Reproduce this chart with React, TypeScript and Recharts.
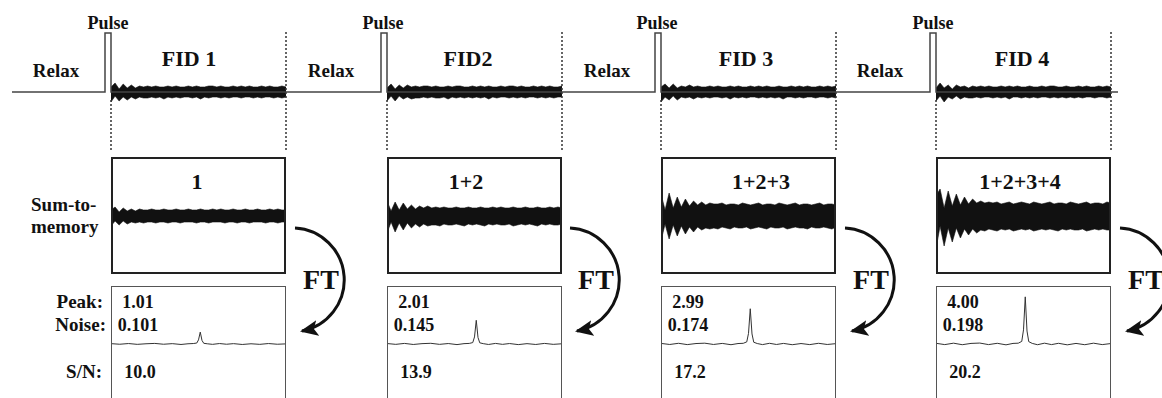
import React from 'react';
import { ComposedChart, LineChart, Line, Area, XAxis, YAxis, ReferenceLine } from 'recharts';

const FONT = '"Liberation Serif", "Times New Roman", serif';

// ---- pulse sequence timing (time units along the acquisition timeline) ----
const relaxStart = 12;
const pulseStarts = [105, 381, 655, 930];
const pulseWidth = 6;
const fidStarts = [111, 387, 661, 936];
const fidLength = 175;
const seqEnd = 1118;
const pulseLevel = 59;

// ---- single-scan FID envelopes (upper / lower excursion) ----
const fidTopHi = [
  [5, 9, 3, 8, 4, 7, 4, 6, 5, 6, 5, 6, 5, 5, 6, 5, 6, 5, 5, 6, 5, 6, 5, 5, 6, 6, 5, 6, 5, 5, 6, 5, 6, 5, 6, 5, 5, 6, 5, 6, 5, 5, 6, 5],
  [4, 8, 3, 7, 4, 7, 5, 6, 5, 6, 6, 5, 6, 5, 5, 6, 5, 6, 6, 5, 5, 6, 5, 6, 5, 6, 5, 5, 6, 5, 6, 6, 5, 6, 5, 5, 6, 5, 6, 5, 6, 5, 5, 6],
  [5, 8, 4, 8, 4, 6, 5, 7, 5, 6, 5, 5, 6, 5, 6, 5, 5, 6, 5, 6, 5, 5, 6, 5, 6, 5, 6, 5, 5, 6, 5, 5, 6, 5, 6, 5, 6, 5, 5, 6, 5, 6, 5, 6],
  [4, 9, 4, 7, 3, 7, 5, 6, 4, 6, 5, 6, 5, 6, 5, 5, 6, 5, 6, 5, 6, 5, 5, 6, 5, 5, 6, 5, 6, 6, 5, 5, 6, 5, 5, 6, 5, 6, 5, 5, 6, 5, 6, 5],
];
const fidTopLo = [
  [-10, -4, -9, -5, -8, -5, -7, -5, -6, -6, -5, -6, -5, -7, -5, -6, -5, -6, -5, -5, -6, -5, -7, -5, -6, -5, -5, -6, -5, -6, -5, -5, -6, -5, -5, -6, -5, -6, -5, -5, -6, -5, -6, -5],
  [-9, -4, -9, -4, -7, -5, -7, -6, -6, -5, -6, -5, -6, -6, -5, -7, -5, -6, -5, -6, -5, -6, -5, -6, -5, -7, -5, -6, -5, -5, -6, -5, -6, -5, -6, -5, -5, -6, -5, -6, -5, -6, -5, -5],
  [-10, -5, -8, -4, -8, -5, -6, -5, -7, -5, -6, -5, -6, -5, -5, -6, -5, -7, -5, -6, -5, -6, -5, -5, -6, -5, -6, -5, -6, -5, -7, -5, -5, -6, -5, -6, -5, -5, -6, -5, -5, -6, -5, -6],
  [-9, -4, -10, -5, -7, -4, -7, -5, -6, -6, -5, -6, -5, -5, -6, -5, -6, -5, -7, -5, -5, -6, -5, -6, -5, -6, -5, -5, -6, -5, -6, -5, -6, -5, -6, -5, -6, -5, -5, -6, -5, -5, -6, -5],
];

// ---- summed FID envelopes (1, 1+2, 1+2+3, 1+2+3+4) ----
const sumHi = [
  [6, 9, 4, 8, 5, 7, 5, 7, 6, 6, 7, 6, 6, 7, 6, 6, 7, 6, 6, 7, 6, 6, 7, 6, 6, 7, 6, 7, 6, 6, 7, 6, 6, 7, 6, 6, 7, 6, 6, 7, 6, 7, 6, 6],
  [15, 5, 14, 6, 13, 7, 11, 7, 10, 8, 10, 8, 9, 8, 9, 8, 8, 9, 8, 8, 9, 8, 8, 9, 8, 8, 9, 8, 9, 8, 8, 9, 8, 8, 9, 8, 8, 9, 8, 8, 9, 8, 9, 8],
  [22, 6, 23, 8, 19, 9, 17, 10, 15, 11, 14, 11, 13, 12, 12, 13, 11, 12, 12, 11, 13, 12, 11, 12, 13, 11, 12, 12, 11, 13, 12, 11, 12, 13, 11, 12, 12, 11, 12, 13, 11, 12, 12, 11],
  [20, 27, 8, 25, 10, 22, 11, 19, 12, 17, 13, 15, 13, 14, 13, 14, 12, 13, 14, 12, 13, 14, 13, 12, 14, 13, 12, 13, 14, 12, 13, 13, 12, 14, 13, 12, 13, 14, 12, 13, 13, 12, 14, 13],
];
const sumLo = [
  [-10, -5, -9, -5, -8, -6, -7, -6, -7, -6, -6, -7, -6, -6, -7, -6, -6, -7, -6, -6, -6, -7, -6, -6, -7, -6, -6, -6, -7, -6, -6, -7, -6, -6, -7, -6, -6, -6, -7, -6, -6, -7, -6, -6],
  [-17, -6, -16, -7, -14, -7, -12, -8, -11, -8, -10, -9, -9, -10, -8, -9, -9, -8, -9, -10, -8, -9, -8, -9, -10, -8, -9, -8, -9, -9, -8, -10, -9, -8, -9, -8, -9, -10, -8, -9, -8, -9, -9, -8],
  [-25, -8, -23, -9, -20, -10, -18, -11, -16, -11, -14, -12, -13, -12, -13, -11, -12, -13, -11, -12, -12, -11, -13, -12, -11, -12, -13, -11, -12, -12, -11, -13, -12, -11, -12, -12, -13, -11, -12, -12, -11, -12, -13, -11],
  [-33, -10, -30, -12, -26, -12, -22, -13, -19, -13, -17, -14, -15, -13, -14, -15, -13, -14, -13, -15, -14, -13, -14, -13, -15, -14, -13, -14, -13, -14, -15, -13, -14, -13, -14, -14, -13, -15, -14, -13, -14, -13, -14, -14],
];

// ---- spectra after FT ----
const specFreq = [0, 5, 10, 15, 20, 25, 30, 35, 40, 44, 47, 49, 50, 51, 52, 53, 55, 58, 62, 66, 70, 75, 80, 85, 90, 95, 100];
const specAmp = [
  [0.03, -0.02, 0.04, -0.03, 0.02, 0.05, -0.02, 0.03, -0.04, 0.02, 0.04, 0.08, 0.35, 1.01, 0.3, 0.06, 0.02, -0.03, 0.04, -0.02, 0.03, -0.04, 0.02, -0.03, 0.04, -0.02, 0.01],
  [0.04, -0.03, 0.05, -0.04, 0.03, 0.06, -0.03, 0.04, -0.05, 0.03, 0.05, 0.12, 0.6, 2.01, 0.55, 0.1, 0.03, -0.04, 0.05, -0.03, 0.04, -0.05, 0.03, -0.04, 0.05, -0.03, 0.02],
  [0.05, -0.04, 0.06, -0.05, 0.04, 0.07, -0.04, 0.05, -0.06, 0.04, 0.06, 0.18, 0.9, 2.99, 0.85, 0.15, 0.04, -0.05, 0.06, -0.04, 0.05, -0.06, 0.04, -0.05, 0.06, -0.04, 0.03],
  [0.06, -0.05, 0.07, -0.06, 0.05, 0.08, -0.05, 0.06, -0.07, 0.05, 0.07, 0.22, 1.2, 4.0, 1.1, 0.2, 0.05, -0.06, 0.07, -0.05, 0.06, -0.07, 0.05, -0.06, 0.07, -0.05, 0.04],
];

// ---- labels ----
const fidLabels = ['FID 1', 'FID2', 'FID 3', 'FID 4'];
const sumLabels = ['1', '1+2', '1+2+3', '1+2+3+4'];
const peakValues = ['1.01', '2.01', '2.99', '4.00'];
const noiseValues = ['0.101', '0.145', '0.174', '0.198'];
const snValues = ['10.0', '13.9', '17.2', '20.2'];

// ---- layout ----
const colLeft = [111, 387, 661, 936];
const colWidth = 175;
const pulseLabelX = [108, 383, 657, 933];
const relaxLabelX = [56, 331, 607, 880];
const fidLabelX = [189, 468, 746, 1022];
const sumLabelX = [197, 466, 761, 1020];
const arcOffset = [0, 275, 550, 825];

// build tables
const seqData: { t: number; v: number }[] = [{ t: relaxStart, v: 0 }];
pulseStarts.forEach((p) => {
  seqData.push({ t: p, v: 0 }, { t: p, v: pulseLevel }, { t: p + pulseWidth, v: pulseLevel }, { t: p + pulseWidth, v: 0 });
});
seqData.push({ t: seqEnd, v: 0 });

const fidTopData = fidTopHi.map((hi, k) =>
  hi.map((h, i) => ({ t: fidStarts[k] + (i * fidLength) / (hi.length - 1), band: [fidTopLo[k][i], h] }))
);
const sumData = sumHi.map((hi, k) => hi.map((h, i) => ({ i, band: [sumLo[k][i], h] })));
const specData = specAmp.map((amp) => specFreq.map((f, i) => ({ f, a: amp[i] })));

const M0 = { top: 0, right: 0, bottom: 0, left: 0 };

export default function App() {
  const txt = (s: string, x: number, y: number, size: number, anchor: string = 'middle', key?: string) => (
    <text key={key} x={x} y={y} fontSize={size} fontFamily={FONT} fontWeight="bold" fill="#111" textAnchor={anchor}>
      {s}
    </text>
  );
  return (
    <div style={{ position: 'absolute', left: 0, top: 0, width: 1162, height: 398, overflow: 'hidden', background: '#fff' }}>
      {/* timeline */}
      <div style={{ position: 'absolute', left: 0, top: 20 }}>
        <ComposedChart width={1162} height={132} margin={M0}>
          <XAxis type="number" dataKey="t" domain={[0, 1162]} hide allowDataOverflow />
          <YAxis type="number" domain={[-60, 72]} hide allowDataOverflow />
          {fidStarts.map((s, k) => (
            <ReferenceLine key={'s' + k} segment={[{ x: s, y: -8 }, { x: s, y: -58 }]} stroke="#333" strokeWidth={1.5} strokeDasharray="2 2" ifOverflow="visible" />
          ))}
          {fidStarts.map((s, k) => (
            <ReferenceLine key={'e' + k} segment={[{ x: s + fidLength, y: 60 }, { x: s + fidLength, y: -58 }]} stroke="#333" strokeWidth={1.5} strokeDasharray="2 2" ifOverflow="visible" />
          ))}
          <Line data={seqData} dataKey="v" type="linear" stroke="#444" strokeWidth={1.5} dot={false} isAnimationActive={false} />
          {fidTopData.map((d, k) => (
            <Area key={k} data={d} dataKey="band" type="linear" stroke="#111" strokeWidth={0.6} fill="#111" fillOpacity={1} isAnimationActive={false} />
          ))}
        </ComposedChart>
      </div>

      {/* summed FIDs */}
      {sumData.map((d, k) => (
        <div key={'sum' + k} style={{ position: 'absolute', left: colLeft[k], top: 157 }}>
          <ComposedChart width={colWidth} height={117} data={d} margin={M0}>
            <XAxis type="number" dataKey="i" domain={[0, 43]} hide />
            <YAxis type="number" domain={[-58, 59]} hide />
            <Area dataKey="band" type="linear" stroke="#111" strokeWidth={0.6} fill="#111" fillOpacity={1} isAnimationActive={false} />
          </ComposedChart>
        </div>
      ))}
      {colLeft.map((x, k) => (
        <div key={'sb' + k} style={{ position: 'absolute', left: x, top: 157, width: colWidth, height: 117, boxSizing: 'border-box', border: '2px solid #222', borderBottomWidth: 2.5 }} />
      ))}

      {/* spectra */}
      {specData.map((d, k) => (
        <div key={'sp' + k} style={{ position: 'absolute', left: colLeft[k], top: 286 }}>
          <LineChart width={colWidth} height={112} data={d} margin={M0}>
            <XAxis type="number" dataKey="f" domain={[0, 100]} hide />
            <YAxis type="number" domain={[-4.58, 4.92]} hide />
            <Line dataKey="a" type="linear" stroke="#333" strokeWidth={1} dot={false} isAnimationActive={false} />
          </LineChart>
        </div>
      ))}
      {colLeft.map((x, k) => (
        <div key={'pb' + k} style={{ position: 'absolute', left: x, top: 286, width: colWidth, height: 130, boxSizing: 'border-box', border: '1.5px solid #555' }} />
      ))}

      {/* text and FT arrows */}
      <svg width={1162} height={398} style={{ position: 'absolute', left: 0, top: 0, pointerEvents: 'none' }}>
        <defs>
          <marker id="ah" markerUnits="userSpaceOnUse" markerWidth={20} markerHeight={16} refX={16} refY={8} orient="auto">
            <path d="M0,0 L18,8 L0,16 L4,8 z" fill="#111" />
          </marker>
        </defs>
        {pulseLabelX.map((x, k) => txt('Pulse', x, 29, 18, 'middle', 'p' + k))}
        {relaxLabelX.map((x, k) => txt('Relax', x, 77, 19, 'middle', 'r' + k))}
        {fidLabelX.map((x, k) => txt(fidLabels[k], x, 66, 22, 'middle', 'f' + k))}
        {sumLabelX.map((x, k) => txt(sumLabels[k], x, 189, 22, 'middle', 'l' + k))}
        {colLeft.map((x, k) => txt(peakValues[k], x + 27, 308, 18, 'middle', 'pv' + k))}
        {colLeft.map((x, k) => txt(noiseValues[k], x + 27, 331, 18, 'middle', 'nv' + k))}
        {colLeft.map((x, k) => txt(snValues[k], x + 29, 378, 18, 'middle', 'sv' + k))}
        {txt('Sum-to-', 31, 211, 19, 'start')}
        {txt('memory', 31, 233, 19, 'start')}
        {txt('Peak:', 103, 308, 19, 'end')}
        {txt('Noise:', 106, 331, 19, 'end')}
        {txt('S/N:', 102, 378, 19, 'end')}
        {arcOffset.map((o, k) => (
          <g key={'ft' + k}>
            <path d={`M ${295 + o} 228 A 52 52 0 0 1 ${302 + o} 331`} fill="none" stroke="#111" strokeWidth={3} markerEnd="url(#ah)" />
            {txt('FT', 321 + o, 289, 28, 'middle')}
          </g>
        ))}
      </svg>
    </div>
  );
}
